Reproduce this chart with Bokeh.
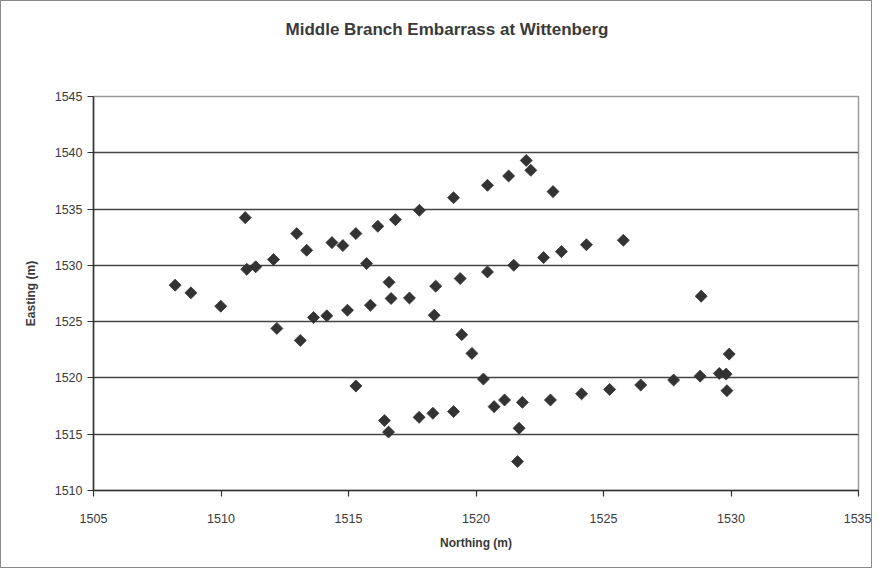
import math
from bokeh.plotting import figure
from bokeh.models import FixedTicker, Range1d, Title
from bokeh.embed import file_html
from bokeh.resources import INLINE

# Data
northing = [1508.20, 1508.82, 1509.99, 1510.95, 1511.01, 1511.36, 1512.06, 1512.19,
            1512.97, 1513.36, 1513.11, 1513.63, 1514.15, 1514.35, 1514.78, 1514.96,
            1515.29, 1515.29, 1515.71, 1515.86, 1516.15, 1516.41, 1516.57, 1516.59,
            1516.67, 1516.84, 1517.39, 1517.78, 1517.77, 1518.31, 1518.36, 1518.42,
            1519.12, 1519.12, 1519.38, 1519.44, 1519.84, 1520.29, 1520.45, 1520.45,
            1520.71, 1521.12, 1521.28, 1521.48, 1521.69, 1521.63, 1521.82, 1521.97,
            1522.15, 1522.65, 1523.02, 1522.92, 1523.35, 1524.14, 1524.33, 1525.24,
            1525.78, 1526.46, 1527.75, 1528.83, 1528.79, 1529.54, 1529.81, 1529.93,
            1529.84]
easting = [1528.24, 1527.56, 1526.37, 1534.24, 1529.65, 1529.87, 1530.52, 1524.40,
           1532.82, 1531.34, 1523.33, 1525.37, 1525.52, 1532.02, 1531.76, 1526.02,
           1532.82, 1519.28, 1530.16, 1526.46, 1533.47, 1516.21, 1515.19, 1528.50,
           1527.06, 1534.06, 1527.10, 1534.89, 1516.50, 1516.86, 1525.57, 1528.15,
           1536.01, 1517.01, 1528.83, 1523.84, 1522.18, 1519.90, 1537.11, 1529.42,
           1517.45, 1518.04, 1537.94, 1530.01, 1515.53, 1512.57, 1517.83, 1539.32,
           1538.44, 1530.69, 1536.55, 1518.04, 1531.22, 1518.59, 1531.83, 1518.98,
           1532.23, 1519.37, 1519.81, 1527.26, 1520.16, 1520.40, 1520.34, 1522.12,
           1518.87]
x_ticks = [1505, 1510, 1515, 1520, 1525, 1530, 1535]
y_ticks = [1510, 1515, 1520, 1525, 1530, 1535, 1540, 1545]

title_text = "Middle Branch Embarrass at Wittenberg"
x_label = "Northing (m)"
y_label = "Easting (m)"

FONT = "Liberation Sans"
TXT = "#3a3a3a"

p = figure(width=872, height=568, output_backend="svg", toolbar_location=None,
           x_range=Range1d(x_ticks[0], x_ticks[-1]),
           y_range=Range1d(y_ticks[0], y_ticks[-1]),
           min_border_left=92, min_border_right=15, min_border_top=95,
           min_border_bottom=79, background_fill_color="white",
           border_fill_color="white")
p.styles = {"border": "1.5px solid #8a8a8a", "box-sizing": "border-box"}

# spacer (nearest to the frame) then the real title above it
spacer = Title(text=" ", text_font_size="1px", standoff=50)
p.add_layout(spacer, "above")
t = Title(text=title_text, align="left", offset=192, standoff=10,
          text_font=FONT, text_font_size="17px", text_font_style="bold",
          text_color=TXT)
p.add_layout(t, "above")

p.outline_line_color = "#9a9a9a"
p.outline_line_width = 1.5

p.xgrid.visible = False
p.ygrid.ticker = FixedTicker(ticks=y_ticks)
p.ygrid.grid_line_color = "#444444"
p.ygrid.grid_line_width = 1.6

for ax in (p.xaxis[0], p.yaxis[0]):
    ax.axis_line_color = "#333333"
    ax.axis_line_width = 1.5
    ax.major_tick_line_color = "#333333"
    ax.major_tick_line_width = 1.2
    ax.major_tick_in = 0
    ax.major_tick_out = 6
    ax.minor_tick_line_color = None
    ax.major_label_text_font = FONT
    ax.major_label_text_font_size = "12.5px"
    ax.major_label_text_color = TXT
    ax.axis_label_text_font = FONT
    ax.axis_label_text_font_size = "12px"
    ax.axis_label_text_font_style = "bold"
    ax.axis_label_text_color = TXT

p.xaxis.ticker = FixedTicker(ticks=x_ticks)
p.yaxis.ticker = FixedTicker(ticks=y_ticks)
p.xaxis.axis_label = x_label
p.yaxis.axis_label = y_label
p.xaxis.major_label_standoff = 17
p.xaxis.axis_label_standoff = 10
p.yaxis.major_label_standoff = 5
p.yaxis.axis_label_standoff = 14

p.scatter(northing, easting, marker="square", angle=math.pi / 4, size=8.5,
          fill_color="#333333", line_color="#333333", line_width=0.8)

open("out.html", "w").write(file_html(p, INLINE))
